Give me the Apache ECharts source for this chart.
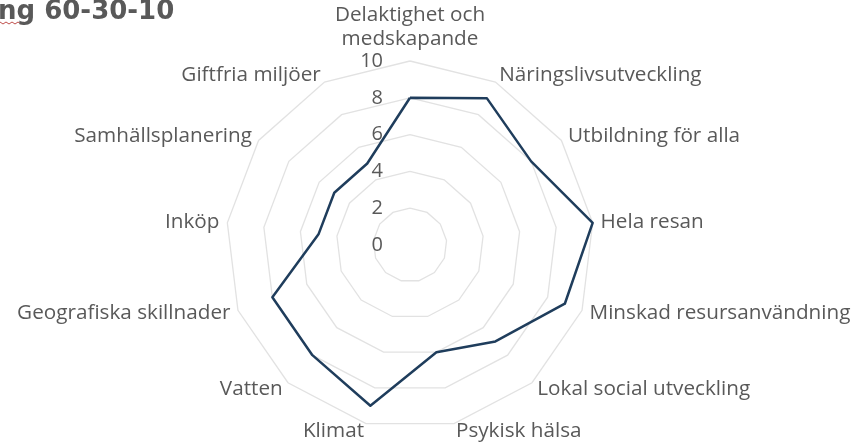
<!DOCTYPE html>
<html>
<head>
<meta charset="utf-8">
<script src="https://cdn.jsdelivr.net/npm/echarts@6/dist/echarts.min.js"></script>
<style>
html,body{margin:0;padding:0;background:#fff;}
#chart{width:853px;height:445px;}
</style>
</head>
<body>
<div id="chart"></div>
<script>
// Categories listed clockwise from the top
const categories = [
  'Delaktighet och\nmedskapande',
  'Näringslivsutveckling',
  'Utbildning för alla',
  'Hela resan',
  'Minskad resursanvändning',
  'Lokal social utveckling',
  'Psykisk hälsa',
  'Klimat',
  'Vatten',
  'Geografiska skillnader',
  'Inköp',
  'Samhällsplanering',
  'Giftfria miljöer'
];
const values = [8, 9, 8, 10, 9, 7, 6, 9, 8, 8, 5, 5, 5];
const axisMin = 0;
const axisMax = 10;
const titleText = 'ng 60-30-10';

// ECharts radar runs counter-clockwise; reorder so the picture runs clockwise
const order = [0].concat(categories.map((c, i) => i).slice(1).reverse());

const chart = echarts.init(document.getElementById('chart'));
const indicators = order.map((idx, k) => {
  const ind = { name: categories[idx], min: axisMin, max: axisMax };
  if (k === 0) {
    ind.axisLabel = { show: true };
  }
  return ind;
});
const orderedValues = order.map(idx => values[idx]);

chart.setOption({
  animation: false,
  backgroundColor: '#ffffff',
  title: {
    text: titleText,
    left: -2,
    top: -1,
    padding: 0,
    textStyle: { fontFamily: 'DejaVu Sans', fontWeight: 'bold', fontSize: 26, color: '#595959' }
  },
  graphic: [{
    type: 'polyline',
    shape: { points: [[0,22],[3,24],[6,22],[9,24],[12,22],[15,24],[18,22],[21,24],[24,22]] },
    style: { stroke: '#c0504d', lineWidth: 1, fill: null }
  }],
  radar: {
    center: [410, 245],
    radius: 184,
    startAngle: 90,
    shape: 'polygon',
    splitNumber: 5,
    nameGap: 8,
    axisName: {
      color: '#595959',
      fontFamily: 'Open Sans',
      fontSize: 20.7,
      lineHeight: 24
    },
    indicator: indicators,
    axisLine: { show: false },
    axisTick: { show: false },
    axisLabel: {
      show: false,
      color: '#595959',
      fontFamily: 'Open Sans',
      fontSize: 20,
      margin: 27
    },
    splitLine: { lineStyle: { color: '#e2e2e2', width: 1.3 } },
    splitArea: { show: false }
  },
  series: [{
    type: 'radar',
    symbol: 'none',
    lineStyle: { color: '#1f3d5c', width: 2.5 },
    data: [{ value: orderedValues, name: 'Viktning 60-30-10' }]
  }]
});
</script>
</body>
</html>
